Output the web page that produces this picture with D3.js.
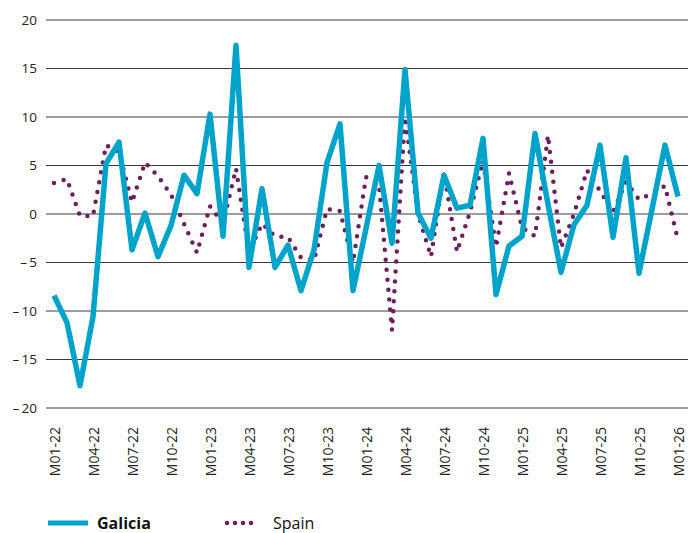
<!DOCTYPE html>
<html><head><meta charset="utf-8">
<script src="https://cdn.jsdelivr.net/npm/d3@7"></script>
<style>
body{margin:0;background:#fff}
svg{display:block}
text{font-family:"Open Sans","Noto Sans",sans-serif}
</style>
</head><body>
<svg id="c" width="698" height="533"></svg>
<script>
const months = ["M01-22","M02-22","M03-22","M04-22","M05-22","M06-22","M07-22","M08-22","M09-22","M10-22","M11-22","M12-22",
"M01-23","M02-23","M03-23","M04-23","M05-23","M06-23","M07-23","M08-23","M09-23","M10-23","M11-23","M12-23",
"M01-24","M02-24","M03-24","M04-24","M05-24","M06-24","M07-24","M08-24","M09-24","M10-24","M11-24","M12-24",
"M01-25","M02-25","M03-25","M04-25","M05-25","M06-25","M07-25","M08-25","M09-25","M10-25","M11-25","M12-25",
"M01-26"];
const xTickLabels = ["M01-22","M04-22","M07-22","M10-22","M01-23","M04-23","M07-23","M10-23","M01-24","M04-24","M07-24","M10-24","M01-25","M04-25","M07-25","M10-25","M01-26"];
const yTicks = [-20,-15,-10,-5,0,5,10,15,20];
const galicia = [-8.4,-11.2,-17.7,-10.6,5.2,7.4,-3.7,0.1,-4.4,-1.2,4.0,2.1,
10.3,-2.3,17.4,-5.5,2.6,-5.5,-3.2,-7.9,-3.7,5.3,9.3,-7.9,
-1.5,5.0,-3.0,14.9,0.1,-2.5,4.0,0.6,0.9,7.8,-8.3,-3.3,
-2.3,8.3,1.0,-6.0,-1.1,0.9,7.1,-2.4,5.8,-6.1,0.5,7.1,
1.8];
const spain = [3.2,3.6,-0.2,-0.2,7.1,6.4,1.2,5.3,3.9,2.0,-1.0,-4.0,
0.8,-1.0,4.7,-4.0,-1.0,-2.3,-2.4,-4.5,-4.8,0.5,0.3,-5.0,
3.8,3.0,-12.0,10.0,0.0,-4.4,4.3,-3.9,0.2,5.5,-3.4,4.2,
-1.4,-2.3,8.1,-3.5,0.0,4.5,2.4,0.2,3.3,1.5,2.1,2.9,
-2.7];
const seriesNames = ["Galicia","Spain"];
const colors = {Galicia:"#00a3c9", Spain:"#6e1e5e"};

const svg = d3.select("#c");
const x = d3.scalePoint().domain(months).range([54,678]);
const y = d3.scaleLinear().domain([-20,20]).range([408,20]);

svg.append("g").selectAll("line").data(yTicks).join("line")
  .attr("x1",46).attr("x2",688)
  .attr("y1",d=>y(d)).attr("y2",d=>y(d))
  .attr("stroke","#3a3a3a").attr("stroke-width",1);

const yAxis = d3.axisLeft(y).tickValues(yTicks).tickSize(0).tickPadding(0)
  .tickFormat(d => d<0 ? "\u2013\u2009"+Math.abs(d) : String(d));
const gy = svg.append("g").attr("transform","translate(37,0)").call(yAxis);
gy.select(".domain").remove();
gy.selectAll("text").attr("font-size",13.5).attr("fill","#222").attr("font-family",'"Open Sans","Noto Sans",sans-serif');

const xAxis = d3.axisBottom(x).tickValues(xTickLabels).tickSize(0).tickPadding(0);
const gx = svg.append("g").attr("transform","translate(1,427)").call(xAxis);
gx.select(".domain").remove();
gx.selectAll("text")
  .attr("transform","rotate(-90)")
  .attr("text-anchor","end")
  .attr("x",0).attr("y",0).attr("dy","0.35em")
  .attr("font-size",14).attr("fill","#222").attr("font-family",'"Open Sans","Noto Sans",sans-serif');

const line = d3.line().x((d,i)=>x(months[i])).y(d=>y(d));

svg.append("path").datum(spain)
  .attr("d",line).attr("fill","none")
  .attr("stroke",colors.Spain).attr("stroke-width",4.5)
  .attr("stroke-linecap","round").attr("stroke-dasharray","0 10");

svg.append("path").datum(galicia)
  .attr("d",line).attr("fill","none")
  .attr("stroke",colors.Galicia).attr("stroke-width",5.5)
  .attr("stroke-linejoin","round");

const lg = svg.append("g");
lg.append("line").attr("x1",48).attr("x2",88).attr("y1",523).attr("y2",523)
  .attr("stroke",colors.Galicia).attr("stroke-width",5);
lg.append("text").attr("x",97).attr("y",529).text(seriesNames[0])
  .attr("font-size",16).attr("font-weight","bold").attr("fill","#111");
lg.append("line").attr("x1",227).attr("x2",259).attr("y1",523).attr("y2",523)
  .attr("stroke",colors.Spain).attr("stroke-width",4.5)
  .attr("stroke-linecap","round").attr("stroke-dasharray","0 8");
lg.append("text").attr("x",273).attr("y",529).text(seriesNames[1])
  .attr("font-size",16).attr("fill","#111");
</script>
</body></html>
